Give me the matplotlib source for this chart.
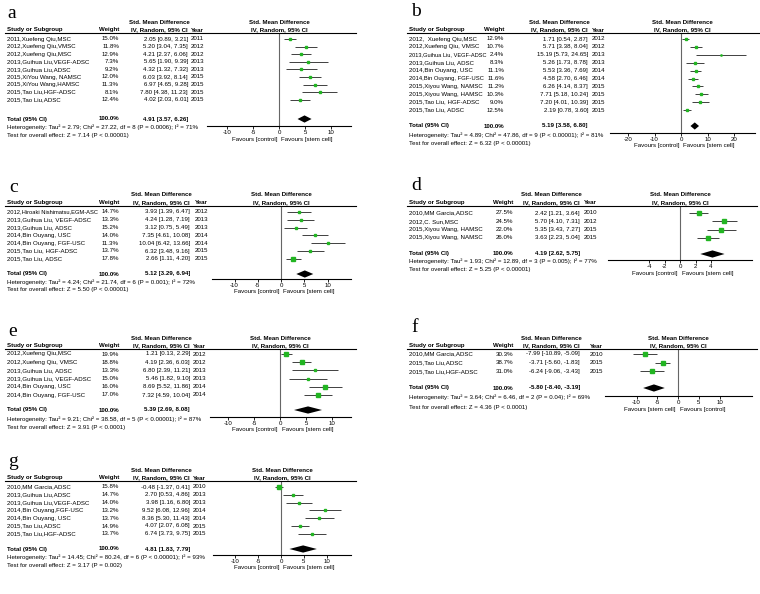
import numpy as np
import matplotlib
matplotlib.use('Agg')
import matplotlib.pyplot as plt
from matplotlib.lines import Line2D

plt.rcParams['font.family'] = ['Liberation Sans', 'DejaVu Sans']
plt.rcParams['axes.unicode_minus'] = False

W, H = 760, 594
FS = 4.4

# ---------------- data ----------------
a_studies = ["2011,Xuefeng Qiu,MSC", "2012,Xuefeng Qiu,VMSC", "2012,Xuefeng Qiu,MSC",
             "2013,Guihua Liu,VEGF-ADSC", "2013,Guihua Liu,ADSC", "2015,XiYou Wang, NAMSC",
             "2015,XiYou Wang,HAMSC", "2015,Tao Liu,HGF-ADSC", "2015,Tao Liu,ADSC"]
a_weights = [15.0, 11.8, 12.9, 7.3, 9.2, 12.0, 11.3, 8.1, 12.4]
a_est = [2.05, 5.20, 4.21, 5.65, 4.32, 6.03, 6.97, 7.80, 4.02]
a_lo = [0.89, 3.04, 2.37, 1.90, 1.32, 3.92, 4.65, 4.38, 2.03]
a_hi = [3.21, 7.35, 6.06, 9.39, 7.32, 8.14, 9.28, 11.23, 6.01]
a_years = [2011, 2012, 2012, 2013, 2013, 2015, 2015, 2015, 2015]
a_total = [4.91, 3.57, 6.26]
a_het = "Heterogeneity: Tau² = 2.79; Chi² = 27.22, df = 8 (P = 0.0006); I² = 71%"
a_test = "Test for overall effect: Z = 7.14 (P < 0.00001)"

b_studies = ["2012,  Xuefeng Qiu,MSC", "2012,Xuefeng Qiu, VMSC", "2013,Guihua Liu, VEGF-ADSC",
             "2013,Guihua Liu, ADSC", "2014,Bin Ouyang, USC", "2014,Bin Ouyang, FGF-USC",
             "2015,Xiyou Wang, NAMSC", "2015,Xiyou Wang, HAMSC", "2015,Tao Liu, HGF-ADSC",
             "2015,Tao Liu, ADSC"]
b_weights = [12.9, 10.7, 2.4, 8.3, 11.1, 11.6, 11.2, 10.3, 9.0, 12.5]
b_est = [1.71, 5.71, 15.19, 5.26, 5.53, 4.58, 6.26, 7.71, 7.20, 2.19]
b_lo = [0.54, 3.38, 5.73, 1.73, 3.36, 2.70, 4.14, 5.18, 4.01, 0.78]
b_hi = [2.87, 8.04, 24.65, 8.78, 7.69, 6.46, 8.37, 10.24, 10.39, 3.60]
b_years = [2012, 2012, 2013, 2013, 2014, 2014, 2015, 2015, 2015, 2015]
b_total = [5.19, 3.58, 6.80]
b_het = "Heterogeneity: Tau² = 4.89; Chi² = 47.86, df = 9 (P < 0.00001); I² = 81%"
b_test = "Test for overall effect: Z = 6.32 (P < 0.00001)"

c_studies = ["2012,Hiroaki Nishimatsu,EGM-ASC", "2013,Guihua Liu, VEGF-ADSC", "2013,Guihua Liu, ADSC",
             "2014,Bin Ouyang, USC", "2014,Bin Ouyang, FGF-USC", "2015,Tao Liu, HGF-ADSC",
             "2015,Tao Liu, ADSC"]
c_weights = [14.7, 13.3, 15.2, 14.0, 11.3, 13.7, 17.8]
c_est = [3.93, 4.24, 3.12, 7.35, 10.04, 6.32, 2.66]
c_lo = [1.39, 1.28, 0.75, 4.61, 6.42, 3.48, 1.11]
c_hi = [6.47, 7.19, 5.49, 10.08, 13.66, 9.16, 4.20]
c_years = [2012, 2013, 2013, 2014, 2014, 2015, 2015]
c_total = [5.12, 3.29, 6.94]
c_het = "Heterogeneity: Tau² = 4.24; Chi² = 21.74, df = 6 (P = 0.001); I² = 72%"
c_test = "Test for overall effect: Z = 5.50 (P < 0.00001)"

d_studies = ["2010,MM Garcia,ADSC", "2012,C. Sun,MSC", "2015,Xiyou Wang, HAMSC", "2015,Xiyou Wang, NAMSC"]
d_weights = [27.5, 24.5, 22.0, 26.0]
d_est = [2.42, 5.70, 5.35, 3.63]
d_lo = [1.21, 4.10, 3.43, 2.23]
d_hi = [3.64, 7.31, 7.27, 5.04]
d_years = [2010, 2012, 2015, 2015]
d_total = [4.19, 2.62, 5.75]
d_het = "Heterogeneity: Tau² = 1.93; Chi² = 12.89, df = 3 (P = 0.005); I² = 77%"
d_test = "Test for overall effect: Z = 5.25 (P < 0.00001)"

e_studies = ["2012,Xuefeng Qiu,MSC", "2012,Xuefeng Qiu, VMSC", "2013,Guihua Liu, ADSC",
             "2013,Guihua Liu, VEGF-ADSC", "2014,Bin Ouyang, USC", "2014,Bin Ouyang, FGF-USC"]
e_weights = [19.9, 18.8, 13.3, 15.0, 16.0, 17.0]
e_est = [1.21, 4.19, 6.80, 5.46, 8.69, 7.32]
e_lo = [0.13, 2.36, 2.39, 1.82, 5.52, 4.59]
e_hi = [2.29, 6.03, 11.21, 9.10, 11.86, 10.04]
e_years = [2012, 2012, 2013, 2013, 2014, 2014]
e_total = [5.39, 2.69, 8.08]
e_het = "Heterogeneity: Tau² = 9.21; Chi² = 38.58, df = 5 (P < 0.00001); I² = 87%"
e_test = "Test for overall effect: Z = 3.91 (P < 0.0001)"

f_studies = ["2010,MM Garcia,ADSC", "2015,Tao Liu,ADSC", "2015,Tao Liu,HGF-ADSC"]
f_weights = [30.3, 38.7, 31.0]
f_est = [-7.99, -3.71, -6.24]
f_lo = [-10.89, -5.60, -9.06]
f_hi = [-5.09, -1.83, -3.43]
f_years = [2010, 2015, 2015]
f_total = [-5.80, -8.40, -3.19]
f_het = "Heterogeneity: Tau² = 3.64; Chi² = 6.46, df = 2 (P = 0.04); I² = 69%"
f_test = "Test for overall effect: Z = 4.36 (P < 0.0001)"

g_studies = ["2010,MM Garcia,ADSC", "2013,Guihua Liu,ADSC", "2013,Guihua Liu,VEGF-ADSC",
             "2014,Bin Ouyang,FGF-USC", "2014,Bin Ouyang, USC", "2015,Tao Liu,ADSC",
             "2015,Tao Liu,HGF-ADSC"]
g_weights = [15.8, 14.7, 14.0, 13.2, 13.7, 14.9, 13.7]
g_est = [-0.48, 2.70, 3.98, 9.52, 8.36, 4.07, 6.74]
g_lo = [-1.37, 0.53, 1.16, 6.08, 5.30, 2.07, 3.73]
g_hi = [0.41, 4.86, 6.80, 12.96, 11.43, 6.08, 9.75]
g_years = [2010, 2013, 2013, 2014, 2014, 2015, 2015]
g_total = [4.81, 1.83, 7.79]
g_het = "Heterogeneity: Tau² = 14.45; Chi² = 80.24, df = 6 (P < 0.00001); I² = 93%"
g_test = "Test for overall effect: Z = 3.17 (P = 0.002)"

ticks_std = [-10, -5, 0, 5, 10]
fav_std = ("Favours [control]", "Favours [stem cell]")

# ---------------- layout (pixels) ----------------
lay_a = dict(label='a', lx=7, ly=13, xs=7, xw=119, xc=188, xy=191, h1=22, h2=30, rule=33,
             row0=39, dy=7.6, tot=119, het=127, test=135, axl=207, axr=351, axy=126,
             zero=279, ppu=5.2, ticks=ticks_std, fav=fav_std)
lay_b = dict(label='b', lx=411, ly=12, xs=409, xw=504, xc=588, xy=592, h1=22, h2=30, rule=33,
             row0=39, dy=7.9, tot=126, het=135, test=143, axl=610, axr=755, axy=133,
             zero=681, ppu=2.65, ticks=[-20, -10, 0, 10, 20], fav=fav_std)
lay_c = dict(label='c', lx=9, ly=187, xs=7, xw=119, xc=190, xy=195, h1=195, h2=203, rule=206,
             row0=212, dy=7.8, tot=274, het=282, test=290, axl=212, axr=351, axy=279,
             zero=281, ppu=4.65, ticks=ticks_std, fav=fav_std)
lay_d = dict(label='d', lx=411, ly=185, xs=409, xw=513, xc=580, xy=584, h1=195, h2=203, rule=206,
             row0=213, dy=8.3, tot=254, het=261, test=269, axl=608, axr=752, axy=260,
             zero=680, ppu=7.75, ticks=[-4, -2, 0, 2, 4], fav=fav_std)
lay_e = dict(label='e', lx=8, ly=332, xs=7, xw=119, xc=190, xy=193, h1=338, h2=346, rule=349,
             row0=354, dy=8.2, tot=410, het=419, test=427, axl=210, axr=351, axy=417,
             zero=280, ppu=5.2, ticks=ticks_std, fav=fav_std)
lay_f = dict(label='f', lx=411, ly=327, xs=409, xw=513, xc=580, xy=590, h1=338, h2=346, rule=349,
             row0=354, dy=8.7, tot=388, het=397, test=407, axl=605, axr=752, axy=396,
             zero=678, ppu=4.15, ticks=ticks_std, fav=("Favours [stem cell]", "Favours [control]"))
lay_g = dict(label='g', lx=8, ly=462, xs=7, xw=119, xc=190, xy=193, h1=471, h2=478, rule=481,
             row0=487, dy=7.8, tot=549, het=557, test=565, axl=213, axr=351, axy=555,
             zero=281, ppu=4.6, ticks=ticks_std, fav=fav_std)


def fx(x):
    return x / W


def fy(y):
    return 1 - y / H


def ci_text(e, l, h):
    return f"{e:.2f} [{l:.2f}, {h:.2f}]"


def draw_panel(fig, L, studies, weights, est, lo, hi, years, total, het, test):
    renderer = fig.canvas.get_renderer()

    def txt(x, y, s, **kw):
        return fig.text(fx(x), fy(y), s, fontsize=FS, va='center', **kw)

    fig.text(fx(L['lx']), fy(L['ly']), L['label'], fontsize=14, family='Liberation Serif',
             va='center', ha='left')

    # header
    cmid = L['xc'] - 29
    txt(cmid, L['h1'], "Std. Mean Difference", ha='center', weight='bold')
    txt(L['xs'], L['h2'], "Study or Subgroup", ha='left', weight='bold')
    txt(L['xw'], L['h2'], "Weight", ha='right', weight='bold')
    txt(cmid, L['h2'], "IV, Random, 95% CI", ha='center', weight='bold')
    txt(L['xy'], L['h2'], "Year", ha='left', weight='bold')
    pmid = (L['axl'] + L['axr']) / 2
    txt(pmid, L['h1'], "Std. Mean Difference", ha='center', weight='bold')
    txt(pmid, L['h2'], "IV, Random, 95% CI", ha='center', weight='bold')
    fig.add_artist(Line2D([fx(L['xs'] - 2), fx(L['axr'] + 5)], [fy(L['rule'])] * 2,
                          color='k', lw=0.8))

    # study rows
    for i in range(len(studies)):
        y = L['row0'] + i * L['dy']
        name = txt(L['xs'], y, studies[i], ha='left')
        wt = txt(L['xw'], y, f"{weights[i]:.1f}%", ha='right')
        txt(L['xc'], y, ci_text(est[i], lo[i], hi[i]), ha='right')
        txt(L['xy'], y, str(years[i]), ha='left')
        # long names are squeezed in the original so they stay clear of the weight column
        nb = name.get_window_extent(renderer)
        limit = wt.get_window_extent(renderer).x0 - 3
        if nb.x1 > limit:
            name.set_fontsize(FS * (limit - nb.x0) / nb.width)

    txt(L['xs'], L['tot'], "Total (95% CI)", ha='left', weight='bold')
    txt(L['xw'], L['tot'], f"{sum(weights):.1f}%", ha='right', weight='bold')
    txt(L['xc'], L['tot'], ci_text(*total), ha='right', weight='bold')
    txt(L['xs'], L['het'], het, ha='left')
    txt(L['xs'], L['test'], test, ha='left')

    # forest part
    ax = fig.add_axes([fx(L['axl']), fy(L['axy']), (L['axr'] - L['axl']) / W,
                       (L['axy'] - L['rule']) / H])
    ax.set_facecolor('none')
    ax.set_xlim((L['axl'] - L['zero']) / L['ppu'], (L['axr'] - L['zero']) / L['ppu'])
    ax.set_ylim((L['axy'] - L['row0']) / L['dy'], (L['rule'] - L['row0']) / L['dy'])
    rows = np.arange(len(studies))
    ax.axvline(0, color='#666666', lw=0.8)
    ax.hlines(rows, lo, hi, color='#404040', lw=0.7)
    for r, e, w in zip(rows, est, weights):
        ax.plot(e, r, marker='s', ms=0.55 * np.sqrt(w), color='#22b522', mec='#22b522')
    yt = (L['tot'] - L['row0']) / L['dy']
    hh = 3.6 / L['dy']
    te, tl, th = total
    ax.fill([tl, te, th, te], [yt, yt - hh, yt, yt + hh], color='k', lw=0)

    for s in ('left', 'right', 'top'):
        ax.spines[s].set_visible(False)
    ax.spines['bottom'].set_linewidth(0.8)
    ax.set_yticks([])
    ax.set_xticks(L['ticks'])
    ax.set_xticklabels([str(t) for t in L['ticks']])
    ax.tick_params(axis='x', labelsize=FS, length=2, width=0.6, pad=1)

    txt(L['zero'] - 2, L['axy'] + 13, L['fav'][0], ha='right')
    txt(L['zero'] + 2, L['axy'] + 13, L['fav'][1], ha='left')


fig = plt.figure(figsize=(W / 100, H / 100), dpi=100)
draw_panel(fig, lay_a, a_studies, a_weights, a_est, a_lo, a_hi, a_years, a_total, a_het, a_test)
draw_panel(fig, lay_b, b_studies, b_weights, b_est, b_lo, b_hi, b_years, b_total, b_het, b_test)
draw_panel(fig, lay_c, c_studies, c_weights, c_est, c_lo, c_hi, c_years, c_total, c_het, c_test)
draw_panel(fig, lay_d, d_studies, d_weights, d_est, d_lo, d_hi, d_years, d_total, d_het, d_test)
draw_panel(fig, lay_e, e_studies, e_weights, e_est, e_lo, e_hi, e_years, e_total, e_het, e_test)
draw_panel(fig, lay_f, f_studies, f_weights, f_est, f_lo, f_hi, f_years, f_total, f_het, f_test)
draw_panel(fig, lay_g, g_studies, g_weights, g_est, g_lo, g_hi, g_years, g_total, g_het, g_test)

fig.savefig('out.png', dpi=100)
